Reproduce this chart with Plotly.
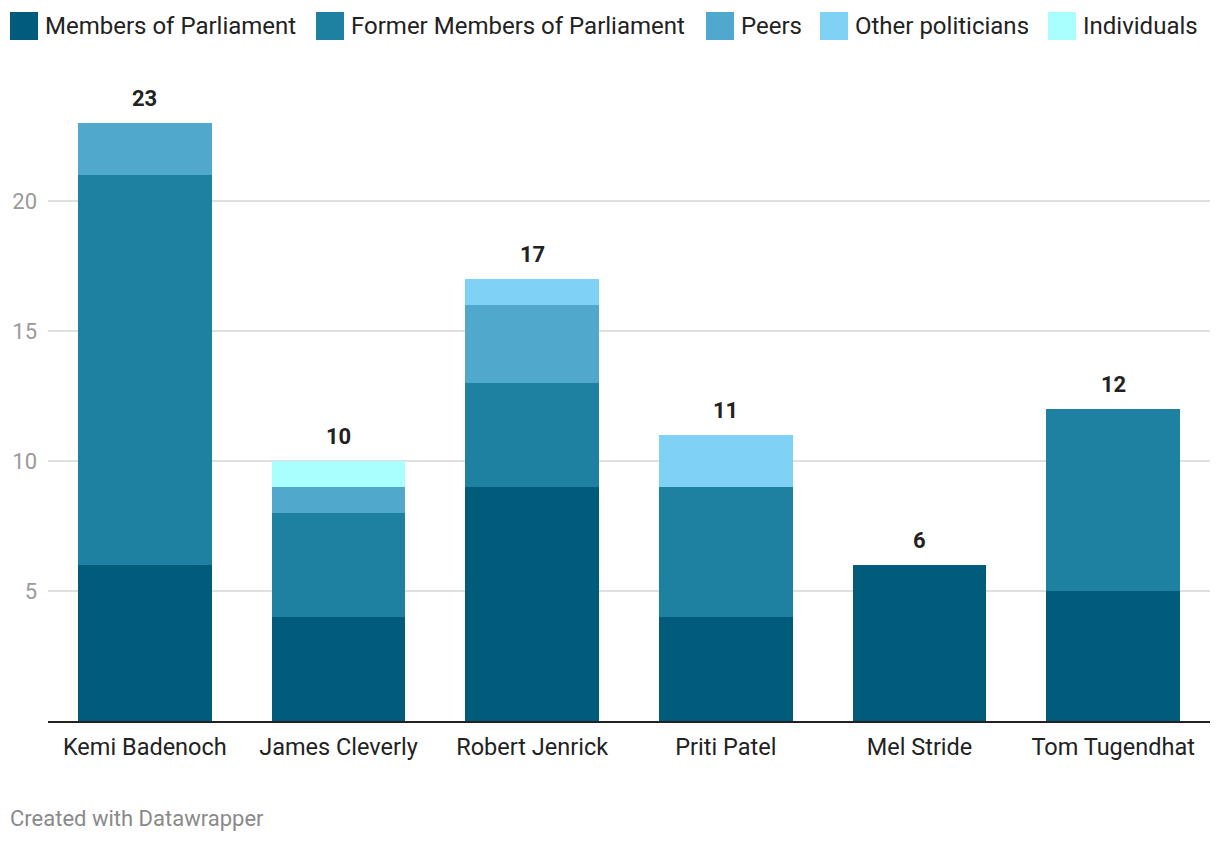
import plotly.graph_objects as go

candidates = ["Kemi Badenoch", "James Cleverly", "Robert Jenrick", "Priti Patel", "Mel Stride", "Tom Tugendhat"]
series_names = ["Members of Parliament", "Former Members of Parliament", "Peers", "Other politicians", "Individuals"]
mps = [6, 4, 9, 4, 6, 5]
former_mps = [15, 4, 4, 5, 0, 7]
peers = [2, 1, 3, 0, 0, 0]
other_politicians = [0, 0, 1, 2, 0, 0]
individuals = [0, 1, 0, 0, 0, 0]
colors = ["#015b7b", "#1e81a1", "#50a9cc", "#7fd1f5", "#a9fffe"]
y_ticks = [5, 10, 15, 20]

series = [mps, former_mps, peers, other_politicians, individuals]
totals = [sum(v) for v in zip(*series)]

FONT = "Roboto, 'Noto Sans', sans-serif"

fig = go.Figure()
for name, vals, col in zip(series_names, series, colors):
    fig.add_trace(go.Bar(
        x=candidates, y=vals, name=name, marker=dict(color=col, line=dict(width=0)),
        showlegend=False, hoverinfo="x+y+name",
    ))

# value labels
for c, t in zip(candidates, totals):
    fig.add_annotation(x=c, y=t, text=f"<b>{t}</b>", showarrow=False, yshift=25,
                       font=dict(size=22, color="#222222", family=FONT), xref="x", yref="y")

# custom legend
sq_x = [10, 316, 706, 820, 1048]
for name, col, x0 in zip(series_names, colors, sq_x):
    fig.add_shape(type="rect", xref="paper", yref="paper",
                  x0=(x0 - 48) / 1162, x1=(x0 + 28 - 48) / 1162,
                  y0=(721 - 40) / 624, y1=(721 - 12) / 624,
                  fillcolor=col, line=dict(width=0))
    fig.add_annotation(xref="paper", yref="paper", x=(x0 + 33 - 48) / 1162, y=(721 - 26) / 624,
                       xanchor="left", yanchor="middle", text=name, showarrow=False,
                       font=dict(size=24, color="#222222", family=FONT))

# footer
fig.add_annotation(xref="paper", yref="paper", x=(8 - 48) / 1162, y=(721 - 818) / 624,
                   xanchor="left", yanchor="middle", text="Created with Datawrapper", showarrow=False,
                   font=dict(size=22, color="#8a8a8a", family=FONT))

fig.update_layout(
    barmode="stack",
    bargap=0.31,
    width=1220, height=844,
    margin=dict(l=48, r=10, t=97, b=123),
    plot_bgcolor="white", paper_bgcolor="white",
    font=dict(family=FONT),
    xaxis=dict(showgrid=False, showline=True, linecolor="#222222", linewidth=2,
               ticks="", tickfont=dict(size=23.5, color="#222222"), ticklabelstandoff=4),
    yaxis=dict(range=[0, 24], tickvals=y_ticks, showgrid=True, gridcolor="#e0e0e0", gridwidth=1.5,
               zeroline=False, showline=False, ticks="",
               tickfont=dict(size=22, color="#9a9a9a"), ticklabelstandoff=10),
)

fig.write_html("out.html")
